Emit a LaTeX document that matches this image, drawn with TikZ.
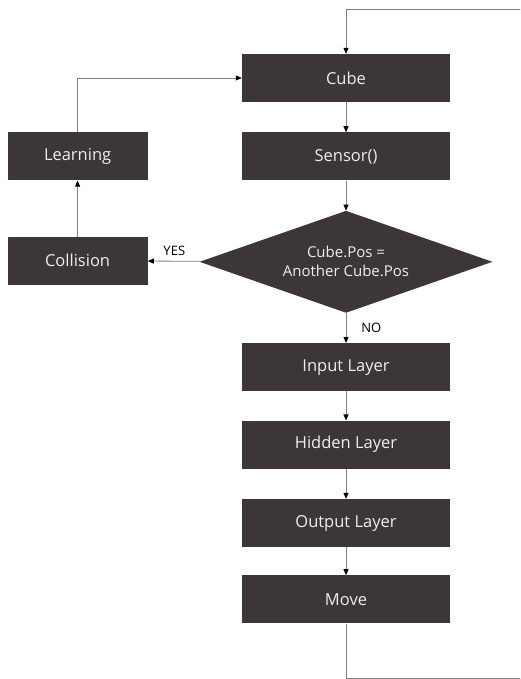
\documentclass[tikz,border=0pt]{standalone}
\usepackage{fontspec}
\setmainfont{Open Sans}
\usetikzlibrary{arrows.meta,positioning,shapes.geometric}

\definecolor{boxfill}{RGB}{60,54,54}
\definecolor{boxtext}{RGB}{238,238,238}
\definecolor{linegray}{RGB}{128,128,128}

\begin{document}
\begin{tikzpicture}[x=1pt,y=-1pt,
    block/.style={rectangle,fill=boxfill,text=boxtext,minimum width=208pt,minimum height=48pt,inner sep=0pt,font=\fontsize{16.5}{19}\selectfont},
    sideblock/.style={block,minimum width=140pt},
    decision/.style={diamond,fill=boxfill,text=boxtext,aspect=2.87,minimum width=293pt,minimum height=102pt,inner sep=0pt,align=center,font=\fontsize{15}{19}\selectfont},
    flow/.style={draw=linegray,line width=0.8pt,-{Triangle[length=6pt,width=5pt,color=black]}},
    tag/.style={font=\fontsize{13}{15}\selectfont,inner sep=1pt}]

\useasboundingbox (0,0) rectangle (520,679);
\clip (0,0) rectangle (520,679);

% main column
\node (cube) [block] at (346,78) {Cube};
\node (sensor) [block,below=30pt of cube] {Sensor()};
\node (check) [decision,below=30pt of sensor] {Cube.Pos =\\Another Cube.Pos};
\node (input) [block,below=30pt of check] {Input Layer};
\node (hidden) [block,below=29pt of input] {Hidden Layer};
\node (output) [block,below=30pt of hidden] {Output Layer};
\node (move) [block,below=28pt of output] {Move};

% side column
\node (learn) [sideblock,left=94pt of sensor] {Learning};
\node (collide) [sideblock,below=56pt of learn] {Collision};

\coordinate (loopbot) at (530,678);
\coordinate (looptop) at (530,9);

\draw [flow] (cube) -- (sensor);
\draw [flow] (sensor) -- (check);
\draw [flow] (check) -- node [tag,right=14pt] {NO} (input);
\draw [flow] (check) -- node [tag,above=4pt] {YES} (collide);
\draw [flow] (collide) -- (learn);
\draw [flow] (learn) |- (cube);
\draw [flow] (input) -- (hidden);
\draw [flow] (hidden) -- (output);
\draw [flow] (output) -- (move);
\draw [flow] (move) |- (loopbot) -- (looptop) -| (cube);

\end{tikzpicture}
\end{document}
